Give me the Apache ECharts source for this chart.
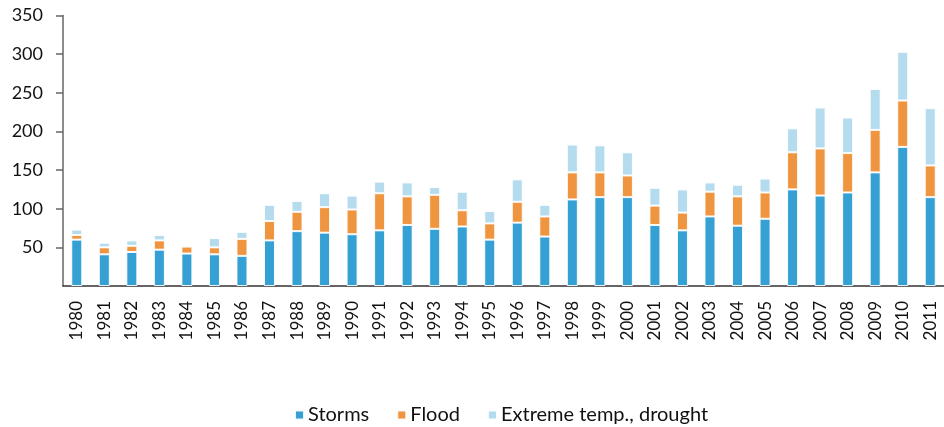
<!DOCTYPE html>
<html>
<head>
<meta charset="utf-8">
<script src="https://cdn.jsdelivr.net/npm/echarts@6/dist/echarts.min.js"></script>
<style>
html,body{margin:0;padding:0;background:#fff;}
#chart{width:944px;height:427px;}
</style>
</head>
<body>
<div id="chart"></div>
<script>
const years = ['1980','1981','1982','1983','1984','1985','1986','1987','1988','1989','1990','1991','1992','1993','1994','1995','1996','1997','1998','1999','2000','2001','2002','2003','2004','2005','2006','2007','2008','2009','2010','2011'];
const storms  = [60,41,44,47,42,41,39,59,71,69,67,72,79,74,77,60,82,64,112,115,115,79,72,90,78,87,125,117,121,147,180,115];
const flood   = [6,9,8,12,9,9,22,25,25,33,32,48,37,44,21,21,27,26,35,32,28,25,23,32,38,34,48,61,51,55,60,41];
const extreme = [7,6,7,7,2,12,9,21,14,18,18,15,18,10,24,16,29,15,36,35,30,23,30,12,15,18,31,53,46,53,63,74];
const yTicks = [0,50,100,150,200,250,300,350];

const seriesNames = ['Storms','Flood','Extreme temp., drought'];
const colors = ['#35a0d3','#f0953f','#b4dcee'];
const dataSets = [storms, flood, extreme];

const chart = echarts.init(document.getElementById('chart'), null, {renderer:'canvas'});
const font = 'Lato, "Noto Sans", sans-serif';
chart.setOption({
  animation:false,
  color: colors,
  textStyle:{fontFamily:font},
  grid:{left:63, right:-6, top:15.5, bottom:141, containLabel:false},
  legend:{
    top:400, left:289,
    itemWidth:9, itemHeight:9, itemGap:27,
    icon:'rect',
    textStyle:{fontFamily:font, fontSize:20, color:'#111', padding:[0,0,0,-1]},
    data: seriesNames
  },
  xAxis:{
    type:'category', data: years,
    axisLine:{show:true, lineStyle:{color:'#333', width:1.5}},
    axisTick:{show:false},
    axisLabel:{rotate:90, margin:15, fontSize:17, color:'#111', fontFamily:font, interval:0}
  },
  yAxis:{
    type:'value', min:yTicks[0], max:yTicks[yTicks.length-1], interval:50,
    axisLine:{show:true, lineStyle:{color:'#666', width:1.5}},
    axisTick:{show:true, length:7, inside:false, lineStyle:{color:'#666', width:1.5}},
    splitLine:{show:false},
    axisLabel:{showMinLabel:false, margin:20, fontSize:18, color:'#111', fontFamily:font}
  },
  series: seriesNames.map((n,i)=>({
    name:n, type:'bar', stack:'total', data:dataSets[i], barWidth:11,
    itemStyle:{borderColor:'rgba(255,255,255,0.9)', borderWidth:1}
  }))
});
</script>
</body>
</html>
